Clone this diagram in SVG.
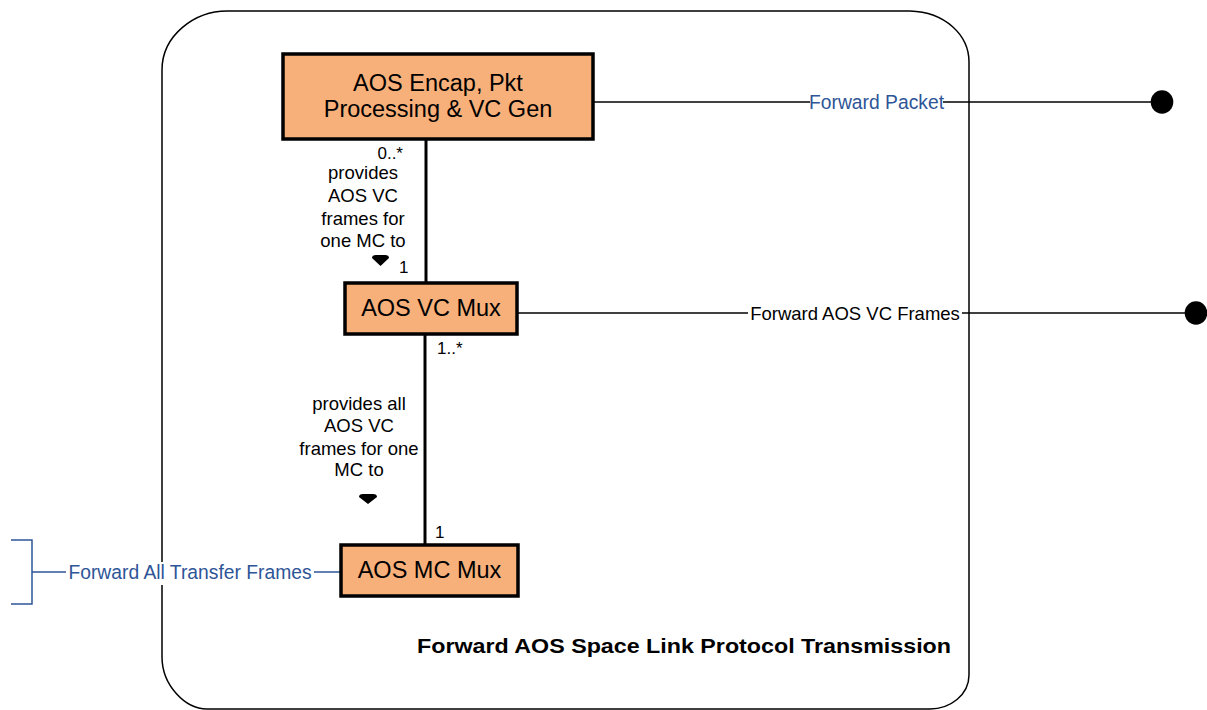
<svg xmlns="http://www.w3.org/2000/svg" width="1207" height="710" viewBox="0 0 1207 710">
<style>
text{font-family:"Liberation Sans",Arial,sans-serif}
.box{fill:#F8B07A;stroke:#000;stroke-width:3.5}
.nt{font-size:23.5px;fill:#000;text-anchor:middle}
.lbl{font-size:18.5px;fill:#000;text-anchor:middle}
.mult{font-size:17px;fill:#000}
.blue{font-size:19.3px;fill:#2E5597;text-anchor:middle}
.ln{stroke:#000;stroke-width:1.5;fill:none}
.bl{stroke:#2E5597;stroke-width:1.5;fill:none}
.assoc{stroke:#000;stroke-width:3;fill:none}
.tri{fill:#000}
</style>
<rect width="1207" height="710" fill="#fff"/>
<g id="boundary">
<path d="M227,11 H910 C945,12 969,35 969,62 V675 C969,695 950,709 930,709 H207 C185,709 162,685 162,657 V70 C162,35 195,11 227,11 Z" fill="none" stroke="#000" stroke-width="1.5"/>
<text x="951" y="653" text-anchor="end" font-size="19.5" font-weight="bold" textLength="534" lengthAdjust="spacingAndGlyphs">Forward AOS Space Link Protocol Transmission</text>
</g>
<g id="connectors">
<line class="assoc" x1="426" y1="139" x2="426" y2="283"/>
<line class="assoc" x1="425" y1="334" x2="425" y2="545"/>
<line class="ln" x1="593" y1="102" x2="810" y2="102"/>
<line class="ln" x1="943" y1="102" x2="1155" y2="102"/>
<ellipse cx="1162" cy="102" rx="11.3" ry="11.7" fill="#000"/>
<line class="ln" x1="517" y1="313" x2="748" y2="313"/>
<line class="ln" x1="962" y1="313" x2="1190" y2="313"/>
<ellipse cx="1196" cy="313" rx="11.3" ry="11.7" fill="#000"/>
<path class="bl" d="M11,540 H32 V604 H11 M32,572 H67 M313,572 H341"/>
<text class="blue" x="876.5" y="109">Forward Packet</text>
<text class="lbl" x="855" y="320">Forward AOS VC Frames</text>
<rect x="66" y="562" width="248" height="23" fill="#fff"/>
<text class="blue" x="190" y="579">Forward All Transfer Frames</text>
<text class="mult" x="403" y="159" text-anchor="end">0..*</text>
<text class="lbl" x="363"><tspan x="363" y="179">provides</tspan><tspan x="363" y="202">AOS VC</tspan><tspan x="363" y="225">frames for</tspan><tspan x="363" y="247">one MC to</tspan></text>
<path class="tri" d="M372,258 Q372,255 376,255 L385,255 Q389,255 389,258 L380.5,266 Z"/>
<text class="mult" x="399" y="273">1</text>
<text class="mult" x="437" y="354">1..*</text>
<text class="lbl" x="359"><tspan x="359" y="410">provides all</tspan><tspan x="359" y="432">AOS VC</tspan><tspan x="359" y="455">frames for one</tspan><tspan x="359" y="476">MC to</tspan></text>
<path class="tri" d="M359,497 Q359,494 363,494 L373,494 Q377,494 377,497 L368,504 Z"/>
<text class="mult" x="435" y="538">1</text>
</g>
<g id="node-encap">
<rect class="box" x="283" y="54" width="310" height="85"/>
<text class="nt" x="438" y="91">AOS Encap, Pkt</text>
<text class="nt" x="438" y="117">Processing &amp; VC Gen</text>
</g>
<g id="node-vcmux">
<rect class="box" x="345" y="283" width="172" height="51"/>
<text class="nt" x="431" y="316">AOS VC Mux</text>
</g>
<g id="node-mcmux">
<rect class="box" x="341" y="545" width="177" height="51"/>
<text class="nt" x="429.5" y="578">AOS MC Mux</text>
</g>
</svg>
